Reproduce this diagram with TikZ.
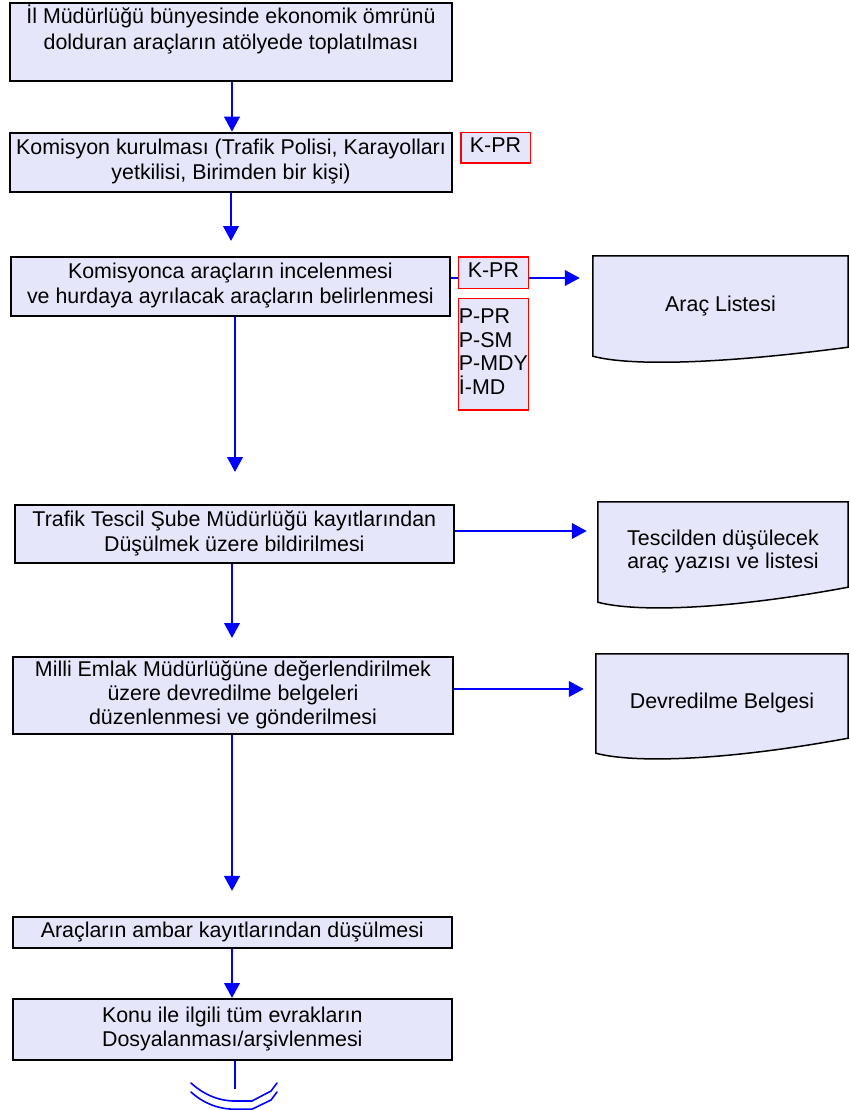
\documentclass[tikz,border=0pt]{standalone}
\usepackage{fontspec}
\setmainfont{Liberation Sans}
\usetikzlibrary{arrows.meta,backgrounds}
\definecolor{boxfill}{RGB}{230,230,250}
\definecolor{flowblue}{RGB}{0,0,255}
\definecolor{tagred}{RGB}{255,0,0}
\newcommand{\docoutline}[2]{%
  \path[docshape] (#1.north west) -- (#1.north east) -- ([yshift=#2pt]#1.south east)
    .. controls ([xshift=127pt,yshift=-8pt]#1.south west) and ([xshift=37pt,yshift=-10pt]#1.south west)
    .. (#1.south west) -- cycle;}
\begin{document}
\begin{tikzpicture}[x=1pt,y=-1pt,
  every node/.style={font=\fontsize{21.4}{25}\selectfont},
  box/.style={draw=black, line width=2pt, fill=boxfill, align=center, inner xsep=2pt, inner ysep=0pt},
  tag/.style={draw=tagred, line width=1.5pt, fill=boxfill, inner xsep=0.5pt, inner ysep=0pt},
  docnode/.style={inner sep=0pt, align=center},
  docshape/.style={draw=black, line width=1.5pt, fill=boxfill},
  arr/.style={draw=flowblue, line width=2.4pt, -{Triangle[length=15pt,width=15.5pt]}},
  link/.style={draw=flowblue, line width=2.4pt},
  thinlink/.style={draw=flowblue, line width=1.8pt},
  termline/.style={draw=flowblue, line width=1.6pt, line cap=round},
]
\useasboundingbox (0,0) rectangle (849,1110);

% process boxes
\node[box, minimum width=441.3pt, minimum height=77.7pt, font=\fontsize{21.4}{26.5}\selectfont] (b1) at (231,42.2)
  {\strut İl Müdürlüğü bünyesinde ekonomik ömrünü\\dolduran araçların atölyede toplatılması\\\rule[-3pt]{0pt}{3pt}};
\node[box, minimum width=441.3pt, minimum height=59pt] (b2) at (231,162.2)
  {\strut Komisyon kurulması (Trafik Polisi, Karayolları\\yetkilisi, Birimden bir kişi)\strut};
\node[box, minimum width=439pt, minimum height=59pt] (b3) at (230.4,286.2)
  {\strut Komisyonca araçların incelenmesi\\ve hurdaya ayrılacak araçların belirlenmesi\strut};
\node[box, minimum width=439.4pt, minimum height=58pt] (b4) at (234.3,534)
  {\strut Trafik Tescil Şube Müdürlüğü kayıtlarından\\Düşülmek üzere bildirilmesi\strut};
\node[box, minimum width=440pt, minimum height=77pt, font=\fontsize{21.4}{24}\selectfont] (b5) at (233,695.5)
  {\strut Milli Emlak Müdürlüğüne değerlendirilmek\\üzere devredilme belgeleri\\düzenlenmesi ve gönderilmesi\strut};
\node[box, minimum width=439.3pt, minimum height=30.5pt] (b6) at (232.3,932.7)
  {\strut Araçların ambar kayıtlarından düşülmesi};
\node[box, minimum width=439.3pt, minimum height=61pt, font=\fontsize{21.4}{24}\selectfont] (b7) at (232.3,1029.5)
  {\strut Konu ile ilgili tüm evrakların\\Dosyalanması/arşivlenmesi\strut};

% responsibility tags
\node[tag, minimum width=69.5pt, minimum height=30.8pt] (k1) at (495.5,147.8) {\strut K-PR};
\node[tag, minimum width=69.8pt, minimum height=31.5pt] (k2) at (493.4,272.5) {\strut K-PR};
\node[tag, minimum width=69.8pt, minimum height=111.5pt, align=left, font=\fontsize{21.4}{23.5}\selectfont] (p1) at (493.4,354.2)
  {\strut P-PR\\P-SM\\P-MDY\\İ-MD\strut};

% documents
\node[docnode, minimum width=255pt, minimum height=100pt] (d1) at (720.5,306) {\strut Araç Listesi};
\node[docnode, minimum width=250pt, minimum height=100pt, font=\fontsize{21.4}{23}\selectfont] (d2) at (723,552)
  {\strut Tescilden düşülecek\\araç yazısı ve listesi\strut};
\node[docnode, minimum width=252pt, minimum height=99pt] (d3) at (722,703.5) {\strut Devredilme Belgesi};

\coordinate (tend) at (235,1089);

\begin{scope}[on background layer]
  \docoutline{d1}{9}
  \docoutline{d2}{15}
  \docoutline{d3}{15}
  % vertical flow
  \draw[arr] ([xshift=1pt]b1.south) -- ([xshift=1pt]b2.north);
  \draw[arr, shorten >=14.7pt] (b2.south) -- ([xshift=0.6pt]b3.north);
  \draw[arr, shorten >=32pt] ([xshift=4.6pt]b3.south) -- ([xshift=0.7pt]b4.north);
  \draw[arr, shorten >=18pt] ([xshift=-2.3pt]b4.south) -- ([xshift=-1pt]b5.north);
  \draw[arr, shorten >=25.5pt] ([xshift=-1pt]b5.south) -- ([xshift=-0.3pt]b6.north);
  \draw[arr] ([xshift=-0.3pt]b6.south) -- ([xshift=-0.3pt]b7.north);
  \draw[thinlink] ([xshift=2.7pt]b7.south) -- (tend);
  % horizontal flow
  \draw[link] ([yshift=8.2pt]b3.east) -- ([yshift=-5.5pt]k2.west);
  \draw[arr, shorten >=13pt] ([yshift=-5.5pt]k2.east) -- ([yshift=28pt]d1.west);
  \draw[arr, shorten >=11pt] ([yshift=3pt]b4.east) -- ([yshift=21pt]d2.west);
  \draw[arr, shorten >=12pt] ([yshift=6.5pt]b5.east) -- ([yshift=14.5pt]d3.west);
\end{scope}

% end symbol
\draw[termline] (191,1083) .. controls (203,1094) and (218,1101) .. (235,1101) -- (252,1101) -- (271,1091) -- (277,1083);
\draw[termline] (191,1092) .. controls (203,1103) and (218,1109.2) .. (235,1109.2) -- (252,1109.2) -- (271,1100) -- (277,1092);
\end{tikzpicture}
\end{document}
